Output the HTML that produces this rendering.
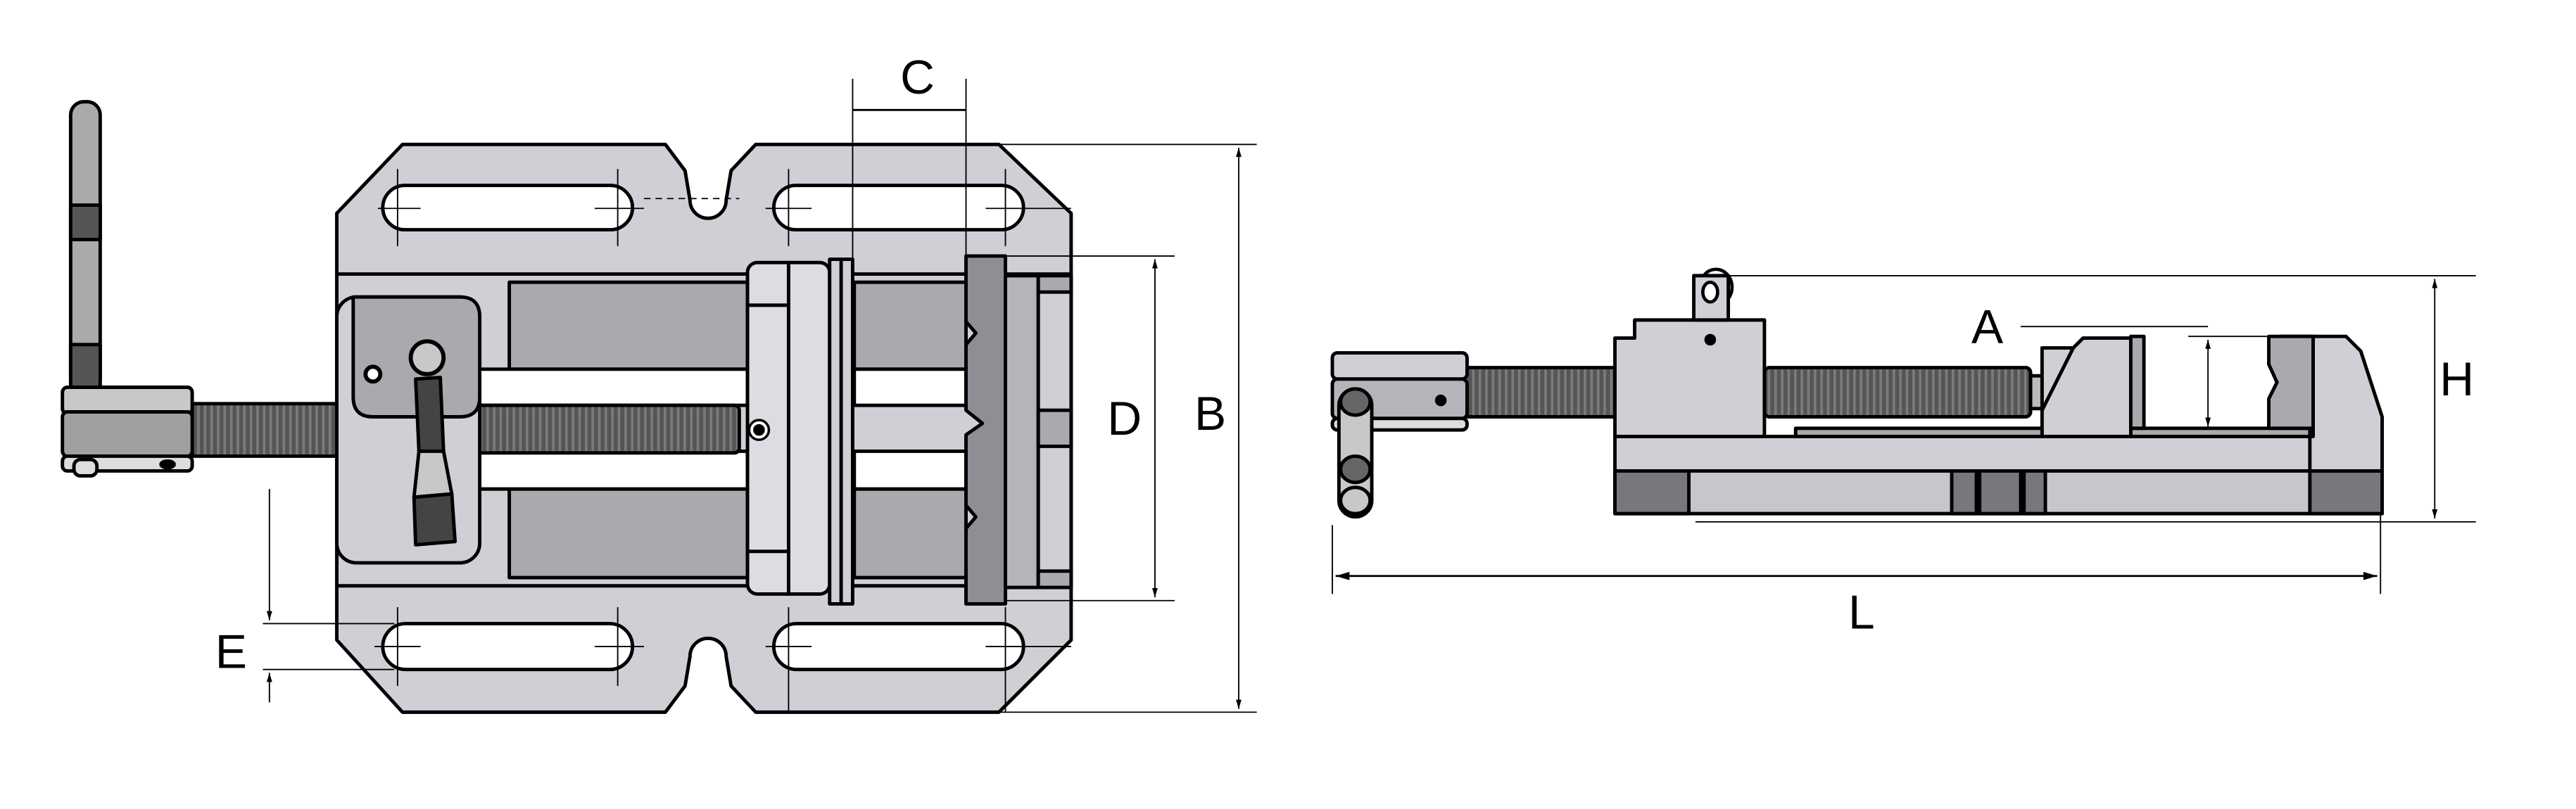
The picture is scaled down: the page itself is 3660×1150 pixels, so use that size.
<!DOCTYPE html>
<html><head><meta charset="utf-8"><style>
html,body{margin:0;padding:0;background:#fff;}
svg{display:block;}
text{font-family:"Liberation Sans",sans-serif;fill:#000;}
</style></head><body>
<svg width="3660" height="1150" viewBox="0 0 1568 493" preserveAspectRatio="none" xmlns="http://www.w3.org/2000/svg">
<defs>
<pattern id="thr" width="4" height="10" patternUnits="userSpaceOnUse">
<rect width="4" height="10" fill="#555"/><rect x="0" width="1.6" height="10" fill="#7a7a7a"/>
</pattern>
<marker id="ar" viewBox="0 0 10 10" refX="10" refY="5" markerWidth="7" markerHeight="7" orient="auto-start-reverse">
<path d="M0,2 L10,5 L0,8 z" fill="#000"/></marker>
</defs>
<g stroke="#000" stroke-width="2.1" stroke-linejoin="round">
<path d="M245,88 L405,88 L417,104 L420,122 A11,11 0 0 0 442,122 L445,104 L460,88 L608,88 L652,130 L652,390 L608,434 L460,434 L445,418 L442,400 A11,11 0 0 0 420,400 L417,418 L405,434 L245,434 L205,390 L205,130 Z" fill="#cfcfd6"/>
<rect x="233" y="113" width="152" height="27" rx="13.5" fill="#fff"/>
<rect x="471" y="113" width="152" height="27" rx="13.5" fill="#fff"/>
<rect x="233" y="380" width="152" height="28" rx="14" fill="#fff"/>
<rect x="471" y="380" width="152" height="28" rx="14" fill="#fff"/>
<line x1="205" y1="167" x2="652" y2="167"/>
<line x1="205" y1="357" x2="652" y2="357"/>
<rect x="310" y="172" width="145" height="53" fill="#a9a9ae"/>
<rect x="310" y="297" width="145" height="55" fill="#a9a9ae"/>
<rect x="290" y="225" width="165" height="22" fill="#fff"/>
<rect x="290" y="275" width="165" height="23" fill="#fff"/>
<rect x="520" y="172" width="68" height="53" fill="#a9a9ae"/>
<rect x="520" y="297" width="68" height="55" fill="#a9a9ae"/>
<rect x="520" y="225" width="68" height="22" fill="#fff"/>
<rect x="520" y="275" width="68" height="23" fill="#fff"/>
<rect x="117" y="246" width="90" height="32" fill="url(#thr)"/>
<rect x="290" y="247" width="160" height="29" rx="3" fill="url(#thr)"/>
<rect x="205" y="181" width="87" height="162" rx="12" fill="#cfcfd6"/>
<path d="M215,181 L280,181 Q292,181 292,193 L292,242 Q292,254 280,254 L227,254 Q215,254 215,242 Z" fill="#a9a9ae"/>
<circle cx="227" cy="228" r="4.5" fill="#fff" stroke-width="2.5"/>
<path d="M253,231 L268,230 L270,275 L255,275 Z" fill="#444"/>
<path d="M255,275 L270,275 L275,301 L252,303 Z" fill="#c8c8c8"/>
<path d="M252,303 L275,301 L277,330 L253,332 Z" fill="#444"/>
<circle cx="260" cy="218" r="10" fill="#c8c8c8" stroke-width="2.5"/>
<rect x="43" y="62" width="18" height="176" rx="8" fill="#aaa"/>
<rect x="43" y="125" width="18" height="21" fill="#555"/>
<rect x="43" y="210" width="18" height="27" fill="#555"/>
<rect x="38" y="236" width="79" height="16" rx="3" fill="#c8c8c8"/>
<rect x="38" y="251" width="79" height="27" rx="3" fill="#a0a0a0"/>
<rect x="38" y="278" width="79" height="9" rx="3" fill="#ddd"/>
<rect x="45" y="280" width="14" height="10" rx="4" fill="#ddd"/>
<ellipse cx="102" cy="283" rx="4" ry="2" fill="#000"/>
<rect x="455" y="160" width="50" height="202" rx="6" fill="#dcdce2"/>
<line x1="455" y1="186" x2="480" y2="186"/><line x1="455" y1="336" x2="480" y2="336"/>
<line x1="480" y1="160" x2="480" y2="362"/>
<rect x="505" y="158" width="14" height="210" fill="#cfcfd6"/>
<line x1="512" y1="158" x2="512" y2="368"/>
<circle cx="462" cy="262" r="6" fill="#fff" stroke-width="1.5"/><circle cx="462" cy="262" r="2.5" fill="#000"/>
<path d="M588,156 L612,156 L612,368 L588,368 L588,322 L594,315 L588,308 L588,265 L598,258 L588,250 L588,210 L594,203 L588,196 Z" fill="#8e8e94"/>
<rect x="612" y="168" width="20" height="190" fill="#b4b4ba"/>
<rect x="632" y="168" width="20" height="190" fill="#cfcfd6"/>
<rect x="632" y="168" width="20" height="10" fill="#a9a9ae"/>
<rect x="632" y="250" width="20" height="22" fill="#a9a9ae"/>
<rect x="632" y="348" width="20" height="10" fill="#a9a9ae"/>
</g>
<g stroke="#000" stroke-width="0.8" fill="none">
<line x1="242" y1="103" x2="242" y2="150"/><line x1="230" y1="127" x2="256" y2="127"/>
<line x1="376" y1="103" x2="376" y2="150"/><line x1="362" y1="127" x2="392" y2="127"/>
<line x1="480" y1="103" x2="480" y2="150"/><line x1="466" y1="127" x2="494" y2="127"/>
<line x1="612" y1="103" x2="612" y2="150"/><line x1="600" y1="127" x2="652" y2="127"/>
<line x1="242" y1="370" x2="242" y2="418"/><line x1="228" y1="394" x2="256" y2="394"/>
<line x1="376" y1="370" x2="376" y2="418"/><line x1="362" y1="394" x2="392" y2="394"/>
<line x1="480" y1="370" x2="480" y2="434"/><line x1="466" y1="394" x2="494" y2="394"/>
<line x1="612" y1="370" x2="612" y2="434"/><line x1="600" y1="394" x2="652" y2="394"/>
<line x1="392" y1="121" x2="450" y2="121" stroke-dasharray="4,3"/>
<line x1="519" y1="48" x2="519" y2="160"/><line x1="588" y1="48" x2="588" y2="158"/>
<line x1="519" y1="67" x2="588" y2="67" stroke-width="1.2"/>
<line x1="608" y1="88" x2="765" y2="88"/><line x1="608" y1="434" x2="765" y2="434"/>
<line x1="754" y1="90" x2="754" y2="432" marker-start="url(#ar)" marker-end="url(#ar)"/>
<line x1="612" y1="156" x2="715" y2="156"/><line x1="612" y1="366" x2="715" y2="366"/>
<line x1="703" y1="158" x2="703" y2="364" marker-start="url(#ar)" marker-end="url(#ar)"/>
<line x1="160" y1="380" x2="240" y2="380"/><line x1="160" y1="408" x2="240" y2="408"/>
<line x1="164" y1="298" x2="164" y2="378" marker-end="url(#ar)"/>
<line x1="164" y1="428" x2="164" y2="410" marker-end="url(#ar)"/>
</g>
<text x="548" y="57" font-size="29">C</text>
<text x="727" y="262" font-size="29">B</text>
<text x="674" y="265" font-size="29">D</text>
<text x="131" y="407" font-size="29">E</text>

<g stroke="#000" stroke-width="2.1" stroke-linejoin="round">
<rect x="891" y="224" width="93" height="30" fill="url(#thr)"/>
<rect x="1074" y="224" width="162" height="30" rx="3" fill="url(#thr)"/>
<rect x="1236" y="229" width="8" height="20" fill="#bbb"/>
<rect x="983" y="266" width="467" height="21" fill="#cfcfd6"/>
<rect x="983" y="287" width="467" height="26" fill="#c6c6cc"/>
<rect x="983" y="287" width="45" height="26" fill="#77777e"/>
<rect x="1406" y="287" width="44" height="26" fill="#77777e"/>
<rect x="1188" y="287" width="15" height="26" fill="#77777e"/>
<rect x="1205" y="287" width="25" height="26" fill="#77777e"/>
<rect x="1232" y="287" width="13" height="26" fill="#77777e"/>
<rect x="1093" y="261" width="313" height="5" fill="#aaa"/>
<path d="M983,206 L995,206 L995,195 L1074,195 L1074,266 L983,266 Z" fill="#cfcfd6"/>
<rect x="1031" y="168" width="21" height="27" fill="#cfcfd6"/>
<ellipse cx="1041" cy="178" rx="4.5" ry="6" fill="#fff" stroke-width="2"/>
<path d="M1037,168 A9,10 0 0 1 1052,182" fill="none" stroke-width="2"/>
<circle cx="1041" cy="207" r="2.5" fill="#000"/>
<path d="M1243,212 L1262,212 L1268,206 L1297,206 L1297,266 L1243,266 Z" fill="#cfcfd6"/>
<line x1="1262" y1="212" x2="1243" y2="250"/>
<rect x="1297" y="205" width="8" height="56" fill="#a9a9ae"/>
<path d="M1388,205 L1428,205 L1437,214 L1450,254 L1450,287 L1406,287 L1406,266 L1408,266 L1408,205 Z" fill="#cfcfd6"/>
<path d="M1381,205 L1408,205 L1408,261 L1381,261 L1381,243 L1386,233 L1381,222 Z" fill="#a9a9ae"/>
<rect x="811" y="215" width="82" height="16" rx="3" fill="#cfcfd6"/>
<rect x="811" y="231" width="82" height="24" rx="3" fill="#b4b4ba"/>
<rect x="811" y="255" width="82" height="7" rx="3" fill="#ddd"/>
<circle cx="877" cy="244" r="2.5" fill="#000"/>
<rect x="815" y="237" width="20" height="78" rx="10" fill="#c8c8c8"/>
<ellipse cx="825" cy="245" rx="9" ry="8" fill="#666"/>
<ellipse cx="825" cy="286" rx="9" ry="8" fill="#666"/>
<ellipse cx="825" cy="305" rx="9" ry="8" fill="#c8c8c8"/>
</g>
<g stroke="#000" stroke-width="0.8" fill="none">
<line x1="1050" y1="168" x2="1507" y2="168"/>
<line x1="1032" y1="318" x2="1507" y2="318"/>
<line x1="1482" y1="170" x2="1482" y2="316" marker-start="url(#ar)" marker-end="url(#ar)"/>
<line x1="1230" y1="199" x2="1344" y2="199"/>
<line x1="1332" y1="205" x2="1386" y2="205"/>
<line x1="1344" y1="207" x2="1344" y2="260" marker-start="url(#ar)" marker-end="url(#ar)"/>
<line x1="811" y1="320" x2="811" y2="362"/>
<line x1="1449" y1="313" x2="1449" y2="362"/>
<line x1="813" y1="351" x2="1447" y2="351" stroke-width="1.2" marker-start="url(#ar)" marker-end="url(#ar)"/>
</g>
<text x="1200" y="209" font-size="29">A</text>
<text x="1485" y="241" font-size="29">H</text>
<text x="1125" y="383" font-size="29">L</text>
</svg>
</body></html>
